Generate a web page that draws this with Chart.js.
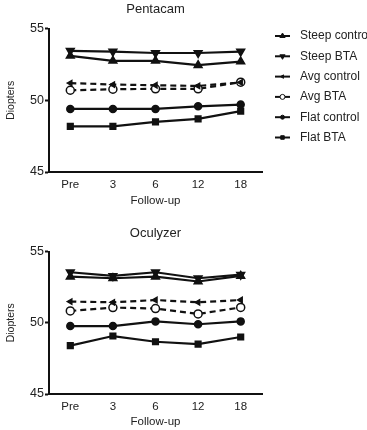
<!DOCTYPE html>
<html>
<head>
<meta charset="utf-8">
<script src="https://cdn.jsdelivr.net/npm/chart.js@4.4.1/dist/chart.umd.min.js"></script>
<style>
    html, body { margin: 0; padding: 0; background: #fff; }
    #wrap { position: relative; width: 367px; height: 430px; overflow: hidden; }
    #pentacamBox { position: absolute; left: 0; top: 0; width: 367px; height: 222px; }
    #oculyzerBox { position: absolute; left: 0; top: 222px; width: 367px; height: 208px; }
</style>
</head>
<body>
<div id="wrap">
    <div id="pentacamBox"><canvas id="pentacamChart"></canvas></div>
    <div id="oculyzerBox"><canvas id="oculyzerChart"></canvas></div>
</div>
<script>
const followUp = ['Pre', '3', '6', '12', '18'];
const yTicks = [45, 50, 55];
const seriesNames = ['Steep control', 'Steep BTA', 'Avg control', 'Avg BTA', 'Flat control', 'Flat BTA'];

// Pentacam
const pentSteepControl = [53.1, 52.75, 52.75, 52.45, 52.7];
const pentSteepBTA = [53.45, 53.4, 53.3, 53.3, 53.4];
const pentAvgControl = [51.2, 51.1, 51.05, 51.0, 51.25];
const pentAvgBTA = [50.7, 50.77, 50.8, 50.8, 51.26];
const pentFlatControl = [49.4, 49.4, 49.4, 49.58, 49.7];
const pentFlatBTA = [48.18, 48.18, 48.5, 48.7, 49.25];

// Oculyzer
const ocuSteepControl = [53.24, 53.13, 53.24, 52.9, 53.29];
const ocuSteepBTA = [53.55, 53.29, 53.55, 53.13, 53.38];
const ocuAvgControl = [51.49, 51.44, 51.6, 51.44, 51.6];
const ocuAvgBTA = [50.83, 51.07, 51.0, 50.62, 51.08];
const ocuFlatControl = [49.77, 49.77, 50.1, 49.9, 50.1];
const ocuFlatBTA = [48.4, 49.07, 48.67, 48.5, 49.0];

const ink = '#111';
const font = 'Liberation Sans, Arial, Helvetica, sans-serif';

const markers = [
    { pointStyle: 'triangle', rotation: 0, radius: 4.5, fill: ink, dash: [] },
    { pointStyle: 'triangle', rotation: 180, radius: 4.5, fill: ink, dash: [] },
    { pointStyle: 'triangle', rotation: 270, radius: 3, fill: ink, dash: [6, 4] },
    { pointStyle: 'circle', rotation: 0, radius: 4, fill: '#fff', dash: [6, 4] },
    { pointStyle: 'circle', rotation: 0, radius: 3.5, fill: ink, dash: [] },
    { pointStyle: 'rect', rotation: 0, radius: 4, fill: ink, dash: [] }
];

function buildDatasets(seriesList) {
    return seriesList.map((values, i) => ({
        label: seriesNames[i],
        data: values,
        borderColor: ink,
        borderWidth: 2.2,
        borderDash: markers[i].dash,
        pointStyle: markers[i].pointStyle,
        rotation: markers[i].rotation,
        pointRadius: markers[i].radius,
        pointBackgroundColor: markers[i].fill,
        pointBorderColor: ink,
        pointBorderWidth: 1.5,
        tension: 0,
        fill: false
    }));
}

// legend drawn at the right of the top chart, same styles as the datasets
const sideLegend = {
    id: 'sideLegend',
    afterDraw(chart, args, opts) {
        if (!opts.show) return;
        const ctx = chart.ctx;
        chart.data.datasets.forEach((ds, i) => {
            const y = 36 + i * 20.3;
            ctx.save();
            ctx.strokeStyle = ink;
            ctx.lineWidth = 2;
            ctx.beginPath();
            ctx.moveTo(275, y);
            ctx.lineTo(290, y);
            ctx.stroke();
            ctx.fillStyle = ds.pointBackgroundColor;
            ctx.lineWidth = 1;
            Chart.helpers.drawPoint(ctx, {
                pointStyle: ds.pointStyle,
                rotation: ds.rotation,
                radius: Math.max(2, ds.pointRadius - 1.5),
                borderWidth: 1
            }, 282.5, y);
            ctx.fillStyle = '#222';
            ctx.font = '12px ' + font;
            ctx.textBaseline = 'middle';
            ctx.fillText(ds.label, 300, y);
            ctx.restore();
        });
    }
};

function makeChart(id, title, seriesList, cfg) {
    const ctx = document.getElementById(id).getContext('2d');
    return new Chart(ctx, {
        type: 'line',
        data: { labels: followUp, datasets: buildDatasets(seriesList) },
        plugins: [sideLegend],
        options: {
            responsive: true,
            maintainAspectRatio: false,
            animation: false,
            layout: { padding: { top: 0, right: 105, bottom: 0, left: 0 } },
            plugins: {
                legend: { display: false },
                tooltip: { enabled: false },
                sideLegend: { show: cfg.legend },
                title: {
                    display: true,
                    text: title,
                    fullSize: false,
                    color: '#222',
                    font: { family: font, size: 13, weight: 'normal' },
                    padding: { top: cfg.titleTop, bottom: cfg.titleBottom }
                }
            },
            scales: {
                x: {
                    type: 'category',
                    offset: true,
                    grid: { display: false, drawOnChartArea: false, drawTicks: true, tickLength: 4, tickColor: ink, tickWidth: 2 },
                    border: { display: true, color: ink, width: 2 },
                    ticks: { color: '#222', padding: 2, font: { family: font, size: 11.5 } },
                    title: {
                        display: true,
                        text: 'Follow-up',
                        color: '#222',
                        font: { family: font, size: 11.5 },
                        padding: { top: 0, bottom: cfg.xTitleBottom }
                    },
                    afterFit(scale) { scale.height = cfg.xHeight; }
                },
                y: {
                    min: 45,
                    max: 55,
                    afterBuildTicks(scale) { scale.ticks = yTicks.map(v => ({ value: v })); },
                    grid: { display: true, drawOnChartArea: false, drawTicks: true, tickLength: 4, tickColor: ink, tickWidth: 2 },
                    border: { display: true, color: ink, width: 2 },
                    ticks: { color: '#222', padding: 1, font: { family: font, size: 12.5 } },
                    title: {
                        display: true,
                        text: 'Diopters',
                        color: '#222',
                        font: { family: font, size: 10.5 },
                        padding: { top: 5, bottom: 0 }
                    },
                    afterFit(scale) { scale.width = 49; }
                }
            }
        }
    });
}

makeChart('pentacamChart', 'Pentacam',
    [pentSteepControl, pentSteepBTA, pentAvgControl, pentAvgBTA, pentFlatControl, pentFlatBTA],
    { legend: true, titleTop: 2, titleBottom: 11, xHeight: 50, xTitleBottom: 14 });

makeChart('oculyzerChart', 'Oculyzer',
    [ocuSteepControl, ocuSteepBTA, ocuAvgControl, ocuAvgBTA, ocuFlatControl, ocuFlatBTA],
    { legend: false, titleTop: 4, titleBottom: 10, xHeight: 36, xTitleBottom: 1 });
</script>
</body>
</html>
